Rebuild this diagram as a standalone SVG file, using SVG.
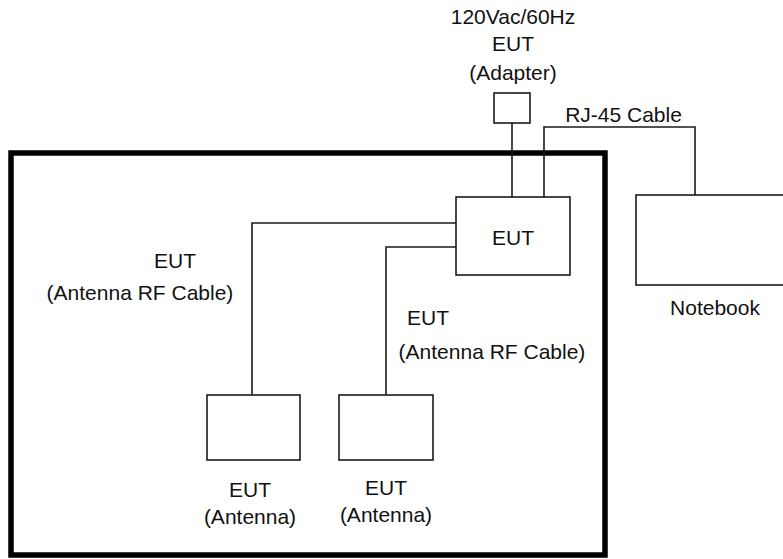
<svg xmlns="http://www.w3.org/2000/svg" width="783" height="559" viewBox="0 0 783 559">
<style>
.box{fill:#fff;stroke:#1a1a1a;stroke-width:1.6}
.wire{fill:none;stroke:#1a1a1a;stroke-width:1.6}
.lbl{font-family:"Liberation Sans",Arial,sans-serif;font-size:21px;fill:#111;text-anchor:middle}
</style>
<rect width="783" height="559" fill="#fff"/>
<g id="chamber"><rect x="11" y="153" width="594" height="402" fill="none" stroke="#000" stroke-width="5.5"/></g>
<g id="connectors">
<path class="wire" d="M512,123 V197"/>
<path class="wire" d="M544,197 V127 H695 V195"/>
<path class="wire" d="M456,223 H252 V395"/>
<path class="wire" d="M456,247 H386 V395"/>
</g>
<g id="adapter">
<rect class="box" x="494" y="93" width="36" height="30"/>
<text class="lbl" x="513" y="24">120Vac/60Hz</text>
<text class="lbl" x="513" y="51">EUT</text>
<text class="lbl" x="513" y="80">(Adapter)</text>
</g>
<g id="eut">
<rect class="box" x="456" y="197" width="114" height="78"/>
<text class="lbl" x="513" y="245">EUT</text>
</g>
<g id="notebook">
<rect class="box" x="636" y="195" width="160" height="90"/>
<text class="lbl" x="715" y="315">Notebook</text>
</g>
<g id="rj45-label"><text class="lbl" x="623.5" y="122">RJ-45 Cable</text></g>
<g id="rf-cable-1-label">
<text class="lbl" x="175" y="268">EUT</text>
<text class="lbl" x="140" y="300">(Antenna RF Cable)</text>
</g>
<g id="rf-cable-2-label">
<text class="lbl" x="428" y="325">EUT</text>
<text class="lbl" x="492" y="359">(Antenna RF Cable)</text>
</g>
<g id="antenna-1">
<rect class="box" x="207" y="395" width="93" height="65"/>
<text class="lbl" x="250" y="497">EUT</text>
<text class="lbl" x="250" y="524">(Antenna)</text>
</g>
<g id="antenna-2">
<rect class="box" x="339" y="395" width="94" height="65"/>
<text class="lbl" x="386" y="495">EUT</text>
<text class="lbl" x="386" y="522">(Antenna)</text>
</g>
</svg>
